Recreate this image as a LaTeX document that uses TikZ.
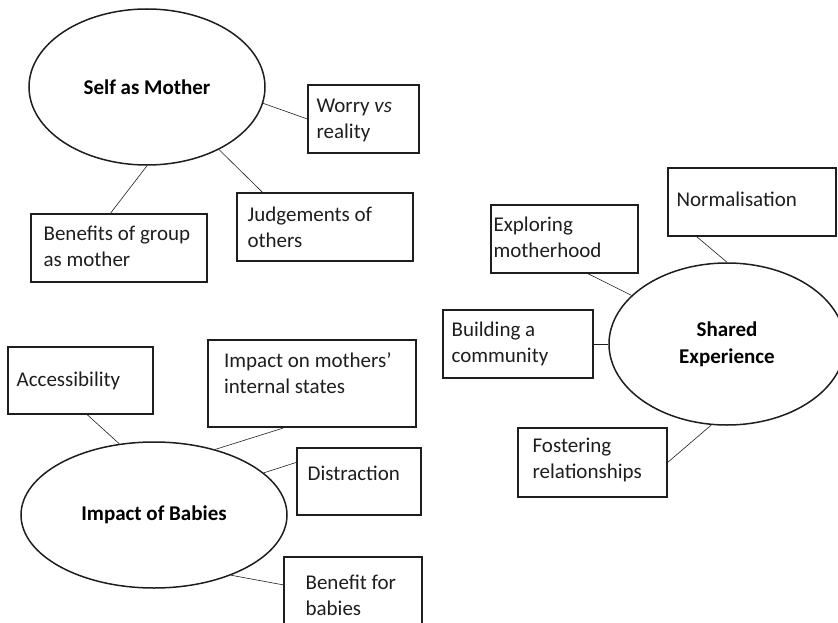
\documentclass[tikz,border=0pt]{standalone}
\usepackage{fontspec}
\setmainfont{Carlito}
\usetikzlibrary{calc,shapes.geometric}
\definecolor{ink}{HTML}{1E1E1E}

\begin{document}
\begin{tikzpicture}[
  x=1pt,y=-1pt,font=\fontsize{21}{26}\selectfont,
  theme/.style={draw=ink,ellipse,line width=1.5pt,align=center,inner sep=0pt,
    font=\fontsize{21}{27}\selectfont\bfseries},
  box/.style={draw=ink,line width=1.2pt,inner sep=0pt},
  heavybox/.style={box,line width=2.2pt},
  boxtext/.style={anchor=north west,inner sep=0pt,align=left,text=ink},
  link/.style={draw=ink,line width=.6pt}
]
\useasboundingbox (0,0) rectangle (838,623);
\clip (0,0) rectangle (838,623);

% Self as Mother
\node[theme,minimum width=236,minimum height=156] (self) at (147,87) {Self as Mother};
\node[box,minimum width=111,minimum height=68] (worry) at (363.5,119) {};
\node[boxtext] at ($(worry.north west)+(9,14)$) {Worry \textit{vs}\\reality};
\node[box,minimum width=176,minimum height=68] (judge) at (325,227) {};
\node[boxtext] at ($(judge.north west)+(11,14)$) {Judgements of\\others};
\node[box,minimum width=176,minimum height=68] (benefits) at (119,248) {};
\node[boxtext] at ($(benefits.north west)+(13,12)$) {Benefits of group\\as mother};
\draw[link] (self.-8) -- (worry.west);
\draw[link] (self.-41.6) -- (judge.151.6);
\draw[link] (self.south) -- (benefits.104.8);

% Shared Experience
\node[theme,minimum width=236,minimum height=162] (shared) at (727,344) {Shared\\Experience};
\node[box,minimum width=168,minimum height=68] (normal) at (752,202) {};
\node[boxtext] at ($(normal.north west)+(9,24)$) {Normalisation};
\node[box,minimum width=147,minimum height=68] (explore) at (564.5,239) {};
\node[boxtext] at ($(explore.north west)+(3,12)$) {Exploring\\motherhood};
\node[box,minimum width=150,minimum height=68] (build) at (518,344) {};
\node[boxtext] at ($(build.north west)+(9,12)$) {Building a\\community};
\node[box,minimum width=149,minimum height=69] (foster) at (592.5,462.5) {};
\node[boxtext] at ($(foster.north west)+(15,10)$) {Fostering\\relationships};
\draw[link] (normal.-148.3) -- (shared.north);
\draw[link] (explore.-56.5) -- (shared.153.2);
\draw[link] (build.east) -- (shared.west);
\draw[link] (foster.east) -- (shared.-101.9);

% Impact of Babies
\node[theme,minimum width=266,minimum height=146] (babies) at (154,515) {Impact of Babies};
\node[box,minimum width=145,minimum height=67] (access) at (80.5,380.5) {};
\node[boxtext] at ($(access.north west)+(9,25)$) {Accessibility};
\node[heavybox,minimum width=208,minimum height=87] (mothers) at (312,383.5) {};
\node[boxtext] at ($(mothers.north west)+(17,14)$) {Impact on mothers’\\internal states};
\node[box,minimum width=124,minimum height=67] (distract) at (359,481.5) {};
\node[boxtext] at ($(distract.north west)+(11,18)$) {Distraction};
\node[box,minimum width=138,minimum height=68] (benefit) at (353,591) {};
\node[boxtext] at ($(benefit.north west)+(22,18)$) {Benefit for\\babies};
\draw[link] (access.-79) -- (babies.116);
\draw[link] (mothers.-123.7) -- (babies.47.2);
\draw[link] (distract.163.4) -- (babies.21.2);
\draw[link] (benefit.175.9) -- (babies.-38.6);
\end{tikzpicture}
\end{document}
